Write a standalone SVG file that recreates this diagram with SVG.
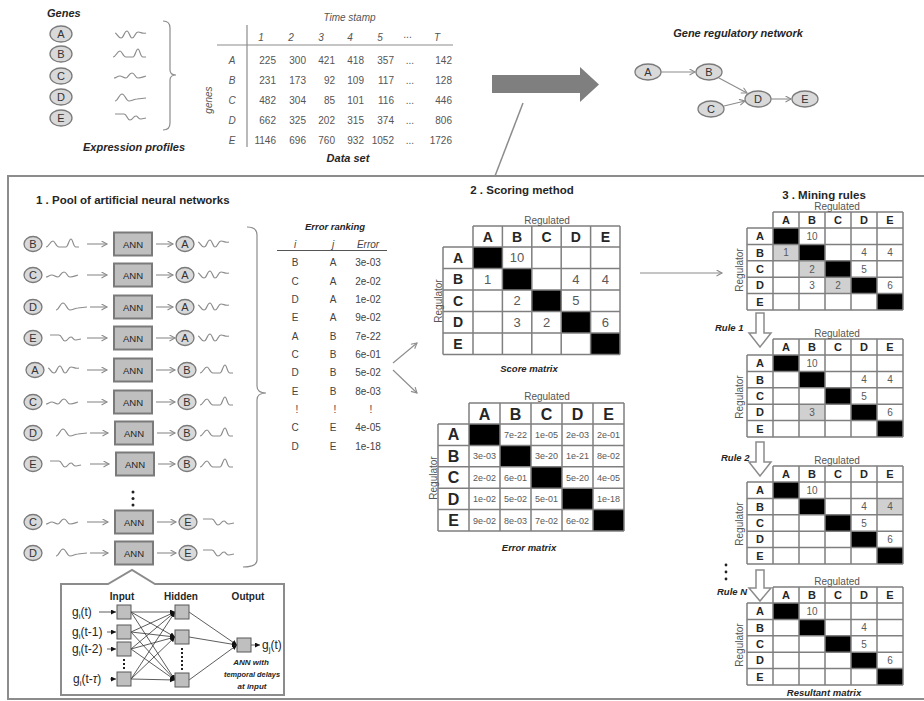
<svg xmlns="http://www.w3.org/2000/svg" width="924" height="701" viewBox="0 0 924 701">
<style>
text{font-family:"Liberation Sans",Arial,sans-serif;fill:#262626}
.ti{font-size:11.5px;font-weight:bold}
.bi{font-weight:bold;font-style:italic}
.sbi{font-weight:bold;font-style:italic;font-size:9.5px}
.it{font-style:italic}
.c{text-anchor:middle}
.g{fill:#d9d9d9;stroke:#7a7a7a;stroke-width:1.3}
.gl{font-size:11px;text-anchor:middle;fill:#333}
.wv{fill:none;stroke:#8c8c8c;stroke-width:1.2}
.ar{fill:none;stroke:#8c8c8c;stroke-width:1.1;marker-end:url(#oa)}
.grid{fill:none;stroke:#7f7f7f;stroke-width:1.5}
.v{fill:#595959;text-anchor:middle}
.dn{font-size:10px;fill:#555;text-anchor:end}
.er{font-size:10px;fill:#444;text-anchor:middle}
.blk{fill:#000}
.hl{fill:#d0d0d0}
.sq{fill:#bfbfbf;stroke:#595959;stroke-width:1}
.nl{fill:none;stroke:#333;stroke-width:0.8;marker-end:url(#fa)}
.rg{font-size:10px;fill:#555;text-anchor:middle}
.ha{fill:#fff;stroke:#8c8c8c;stroke-width:1.5}
</style>
<defs>
<marker id="oa" markerWidth="8" markerHeight="8" refX="6" refY="3.5" orient="auto" markerUnits="userSpaceOnUse"><path d="M0.5,0.5 L6,3.5 L0.5,6.5" fill="none" stroke="#8c8c8c" stroke-width="1.1"/></marker>
<marker id="fa" markerWidth="7" markerHeight="7" refX="5" refY="2.5" orient="auto" markerUnits="userSpaceOnUse"><path d="M0,0 L5,2.5 L0,5 Z" fill="#111"/></marker>
<path id="wA" class="wv" d="M0,-2 C2,-2 3,3 6,3 C9,3 9,-4 12,-4 C14,-4 15,3 17,3 C20,3 20,-3 23,-3 C26,-3 27,-1 31,-2"/>
<path id="wB" class="wv" d="M0,3 C3,3 4,-3 7,-3 C9,-3 10,3 13,3 L20,3 C22,3 23,-5 25,-5 C27,-5 27,3 30,3 L33,3"/>
<path id="wC" class="wv" d="M0,2 C2,2 3,0 6,0 C8,0 9,2 12,2 C14,2 15,-3 18,-3 C21,-3 21,2 24,2 C27,2 29,1 32,0"/>
<path id="wD" class="wv" d="M0,3 C3,3 4,-4 7,-4 C10,-4 11,3 14,3 C17,3 19,1 22,1 L31,0"/>
<path id="wE" class="wv" d="M0,-3 L9,-3 C12,-3 12,3 15,3 C18,3 18,-1 21,-1 C23,-1 23,2 26,2 L31,1"/>
<g id="ann"><rect x="0" y="-11.5" width="38" height="23" fill="#bfbfbf" stroke="#7a7a7a" stroke-width="2"/><text x="19" y="3.5" font-size="9.5" text-anchor="middle">ANN</text></g>
<g id="mgrid">
<rect class="blk" x="26" y="16" width="26" height="16.4"/><rect class="blk" x="52" y="32.4" width="26" height="16.4"/><rect class="blk" x="78" y="48.8" width="26" height="16.4"/><rect class="blk" x="104" y="65.2" width="26" height="16.4"/><rect class="blk" x="130" y="81.6" width="26" height="16.4"/>
<path class="grid" d="M26,0 H156 M0,16 H156 M0,32.4 H156 M0,48.8 H156 M0,65.2 H156 M0,81.6 H156 M0,98 H156 M0,16 V98 M26,0 V98 M52,0 V98 M78,0 V98 M104,0 V98 M130,0 V98 M156,0 V98"/>
<g font-size="11" font-weight="bold" text-anchor="middle"><text x="39" y="12">A</text><text x="65" y="12">B</text><text x="91" y="12">C</text><text x="117" y="12">D</text><text x="143" y="12">E</text>
<text x="13" y="28.2">A</text><text x="13" y="44.6">B</text><text x="13" y="61">C</text><text x="13" y="77.4">D</text><text x="13" y="93.8">E</text></g>
<text class="rg" x="90" y="-2.5" font-size="8.5">Regulated</text>
<text class="rg" transform="translate(-4,58) rotate(-90)" font-size="8.5">Regulator</text>
</g>
</defs>
<rect width="924" height="701" fill="#fff"/>

<!-- top: genes and expression profiles -->
<g id="genes">
<text class="bi" x="47" y="17" font-size="11">Genes</text>
<ellipse class="g" cx="61" cy="34" rx="11" ry="8"/><text class="gl" x="61" y="38">A</text>
<ellipse class="g" cx="61" cy="54" rx="11" ry="8"/><text class="gl" x="61" y="58">B</text>
<ellipse class="g" cx="61" cy="76" rx="11" ry="8"/><text class="gl" x="61" y="80">C</text>
<ellipse class="g" cx="61" cy="97" rx="11" ry="8"/><text class="gl" x="61" y="101">D</text>
<ellipse class="g" cx="61" cy="118" rx="11" ry="8"/><text class="gl" x="61" y="122">E</text>
<use href="#wA" x="115" y="35"/><use href="#wB" x="113" y="54"/><use href="#wC" x="114" y="76"/><use href="#wD" x="115" y="98"/><use href="#wE" x="115" y="117"/>
<path d="M163,21 Q170,21 170,28 L170,70 Q170,75 176,75 Q170,75 170,80 L170,123 Q170,130 163,130" fill="none" stroke="#8c8c8c" stroke-width="1.2"/>
<text class="bi c" x="134" y="151" font-size="11">Expression profiles</text>
</g>

<!-- data set -->
<g id="dataset">
<text class="it c" x="349.5" y="21" font-size="10" fill="#555" style="fill:#555">Time stamp</text>
<path d="M247,25 V147 M217,45 H453" stroke="#8c8c8c" stroke-width="1.2" fill="none"/>
<text class="it" font-size="10" text-anchor="middle" style="fill:#555"><tspan x="261" y="41">1</tspan><tspan x="291" y="41">2</tspan><tspan x="321" y="41">3</tspan><tspan x="350" y="41">4</tspan><tspan x="380" y="41">5</tspan><tspan x="408" y="38">...</tspan><tspan x="437" y="41">T</tspan></text>
<text class="it" font-size="10" text-anchor="middle" style="fill:#555"><tspan x="232" y="64">A</tspan><tspan x="232" y="84">B</tspan><tspan x="232" y="103.5">C</tspan><tspan x="232" y="123.5">D</tspan><tspan x="232" y="143.5">E</tspan></text>
<text class="it" font-size="10" text-anchor="middle" transform="translate(212,100) rotate(-90)" style="fill:#555">genes</text>
<text class="dn" y="64"><tspan x="276">225</tspan><tspan x="306">300</tspan><tspan x="335">421</tspan><tspan x="364">418</tspan><tspan x="394">357</tspan><tspan x="414">...</tspan><tspan x="452">142</tspan></text>
<text class="dn" y="84"><tspan x="276">231</tspan><tspan x="306">173</tspan><tspan x="335">92</tspan><tspan x="364">109</tspan><tspan x="394">117</tspan><tspan x="414">...</tspan><tspan x="452">128</tspan></text>
<text class="dn" y="103.5"><tspan x="276">482</tspan><tspan x="306">304</tspan><tspan x="335">85</tspan><tspan x="364">101</tspan><tspan x="394">116</tspan><tspan x="414">...</tspan><tspan x="452">446</tspan></text>
<text class="dn" y="123.5"><tspan x="276">662</tspan><tspan x="306">325</tspan><tspan x="335">202</tspan><tspan x="364">315</tspan><tspan x="394">374</tspan><tspan x="414">...</tspan><tspan x="452">806</tspan></text>
<text class="dn" y="143.5"><tspan x="276">1146</tspan><tspan x="306">696</tspan><tspan x="335">760</tspan><tspan x="364">932</tspan><tspan x="394">1052</tspan><tspan x="414">...</tspan><tspan x="452">1726</tspan></text>
<text class="bi c" x="348" y="162" font-size="11">Data set</text>
</g>

<!-- big arrow -->
<g id="bigarrow">
<path d="M492,75 L580,75 L580,67 L599,84.5 L580,102 L580,93 L492,93 Z" fill="#7f7f7f"/>
</g>

<!-- gene regulatory network -->
<g id="grn">
<text class="bi c" x="738" y="37" font-size="11">Gene regulatory network</text>
<g id="nA"><ellipse class="g" cx="648" cy="72" rx="13" ry="8"/><text class="gl" x="648" y="76">A</text></g>
<g id="nB"><ellipse class="g" cx="709" cy="72" rx="13" ry="8"/><text class="gl" x="709" y="76">B</text></g>
<g id="nC"><ellipse class="g" cx="711" cy="109" rx="13" ry="8"/><text class="gl" x="711" y="113">C</text></g>
<g id="nD"><ellipse class="g" cx="758" cy="99" rx="13" ry="8"/><text class="gl" x="758" y="103">D</text></g>
<g id="nE"><ellipse class="g" cx="805" cy="99" rx="13" ry="8"/><text class="gl" x="805" y="103">E</text></g>
</g>

<!-- main frame -->
<rect x="8" y="176" width="940" height="523" fill="none" stroke="#8c8c8c" stroke-width="2"/>

<!-- section 1 -->
<g id="pool">
<text class="ti" x="36" y="204">1 . Pool of artificial neural networks</text>
<g id="r1"><ellipse class="g" cx="33" cy="244" rx="9" ry="7.5"/><text class="gl" x="33" y="248">B</text><use href="#wB" x="46" y="244"/><use href="#ann" x="114" y="244"/><ellipse class="g" cx="185" cy="244" rx="9" ry="7.5"/><text class="gl" x="185" y="248">A</text><use href="#wA" x="198" y="244"/></g>
<g id="r2"><ellipse class="g" cx="33" cy="275" rx="9" ry="7.5"/><text class="gl" x="33" y="279">C</text><use href="#wC" x="46" y="275"/><use href="#ann" x="114" y="275"/><ellipse class="g" cx="185" cy="275" rx="9" ry="7.5"/><text class="gl" x="185" y="279">A</text><use href="#wA" x="198" y="275"/></g>
<g id="r3"><ellipse class="g" cx="33" cy="307" rx="9" ry="7.5"/><text class="gl" x="33" y="311">D</text><use href="#wD" x="56" y="307"/><use href="#ann" x="114" y="307"/><ellipse class="g" cx="185" cy="307" rx="9" ry="7.5"/><text class="gl" x="185" y="311">A</text><use href="#wA" x="198" y="307"/></g>
<g id="r4"><ellipse class="g" cx="33" cy="338" rx="9" ry="7.5"/><text class="gl" x="33" y="342">E</text><use href="#wE" x="50" y="338"/><use href="#ann" x="114" y="338"/><ellipse class="g" cx="185" cy="338" rx="9" ry="7.5"/><text class="gl" x="185" y="342">A</text><use href="#wA" x="198" y="338"/></g>
<g id="r5"><ellipse class="g" cx="35" cy="370" rx="9" ry="7.5"/><text class="gl" x="35" y="374">A</text><use href="#wA" x="48" y="370"/><use href="#ann" x="114" y="370"/><ellipse class="g" cx="187" cy="370" rx="9" ry="7.5"/><text class="gl" x="187" y="374">B</text><use href="#wB" x="200" y="370"/></g>
<g id="r6"><ellipse class="g" cx="33" cy="402" rx="9" ry="7.5"/><text class="gl" x="33" y="406">C</text><use href="#wC" x="46" y="402"/><use href="#ann" x="114" y="402"/><ellipse class="g" cx="187" cy="402" rx="9" ry="7.5"/><text class="gl" x="187" y="406">B</text><use href="#wB" x="200" y="402"/></g>
<g id="r7"><ellipse class="g" cx="33" cy="433" rx="9" ry="7.5"/><text class="gl" x="33" y="437">D</text><use href="#wD" x="56" y="433"/><use href="#ann" x="115" y="433"/><ellipse class="g" cx="187" cy="433" rx="9" ry="7.5"/><text class="gl" x="187" y="437">B</text><use href="#wB" x="200" y="433"/></g>
<g id="r8"><ellipse class="g" cx="33" cy="464" rx="9" ry="7.5"/><text class="gl" x="33" y="468">E</text><use href="#wE" x="50" y="464"/><use href="#ann" x="116" y="464"/><ellipse class="g" cx="187" cy="464" rx="9" ry="7.5"/><text class="gl" x="187" y="468">B</text><use href="#wB" x="200" y="464"/></g>
<g id="vdots1" fill="#222"><circle cx="133" cy="492" r="1.5"/><circle cx="133" cy="498.5" r="1.5"/><circle cx="133" cy="505" r="1.5"/></g>
<g id="r9"><ellipse class="g" cx="33" cy="522" rx="9" ry="7.5"/><text class="gl" x="33" y="526">C</text><use href="#wC" x="46" y="522"/><use href="#ann" x="115" y="522"/><ellipse class="g" cx="188" cy="522" rx="9" ry="7.5"/><text class="gl" x="188" y="526">E</text><use href="#wE" x="203" y="522"/></g>
<g id="r10"><ellipse class="g" cx="33" cy="553" rx="9" ry="7.5"/><text class="gl" x="33" y="557">D</text><use href="#wD" x="56" y="553"/><use href="#ann" x="115" y="553"/><ellipse class="g" cx="188" cy="553" rx="9" ry="7.5"/><text class="gl" x="188" y="557">E</text><use href="#wE" x="203" y="553"/></g>
<path d="M247,227 Q257,227 257,235 L257,386 Q257,393 266,393 Q257,393 257,400 L257,560 Q257,567 243,567" fill="none" stroke="#8c8c8c" stroke-width="1.2"/>
</g>

<!-- ANN inset -->
<g id="inset">
<path d="M61,584 H108 L132,570 L155,584 H284 V695 H61 Z" fill="#fff" stroke="#8c8c8c" stroke-width="2"/>
<text x="122" y="600" font-size="10" font-weight="bold" text-anchor="middle">Input</text>
<text x="181" y="600" font-size="10" font-weight="bold" text-anchor="middle">Hidden</text>
<text x="248" y="600" font-size="10" font-weight="bold" text-anchor="middle">Output</text>
<text x="72" y="616" font-size="12">g<tspan font-size="8" dy="3">i</tspan><tspan dy="-3">(t)</tspan></text>
<text x="72" y="636" font-size="12">g<tspan font-size="8" dy="3">i</tspan><tspan dy="-3">(t-1)</tspan></text>
<text x="72" y="653" font-size="12">g<tspan font-size="8" dy="3">i</tspan><tspan dy="-3">(t-2)</tspan></text>
<text x="73" y="683" font-size="12">g<tspan font-size="8" dy="3">i</tspan><tspan dy="-3">(t-</tspan><tspan font-style="italic">τ</tspan>)</text>
<text x="262" y="649" font-size="12">g<tspan font-size="8" dy="3">j</tspan><tspan dy="-3">(t)</tspan></text>
<g fill="none" stroke="#333" stroke-width="0.8">
<path class="nl" d="M131,612 L175,612"/><path class="nl" d="M131,612 L175,637"/><path class="nl" d="M131,612 L175,680"/>
<path class="nl" d="M131,632 L175,612"/><path class="nl" d="M131,632 L175,637"/><path class="nl" d="M131,632 L175,680"/>
<path class="nl" d="M131,649 L175,612"/><path class="nl" d="M131,649 L175,637"/><path class="nl" d="M131,649 L175,680"/>
<path class="nl" d="M131,679 L175,612"/><path class="nl" d="M131,679 L175,637"/><path class="nl" d="M131,679 L175,680"/>
<path class="nl" d="M189,612 L237,645"/><path class="nl" d="M189,637 L237,645"/><path class="nl" d="M189,680 L237,645"/>
<path class="nl" d="M251,645 L260,645"/>
<path class="nl" d="M99,612 L116,612"/><path class="nl" d="M107,632 L116,632"/><path class="nl" d="M107,649 L116,649"/><path class="nl" d="M110,679 L116,679"/>
</g>
<rect class="sq" x="117" y="605" width="14" height="14"/><rect class="sq" x="117" y="625" width="14" height="14"/><rect class="sq" x="117" y="642" width="14" height="14"/><rect class="sq" x="117" y="672" width="14" height="14"/>
<rect class="sq" x="175" y="605" width="14" height="14"/><rect class="sq" x="175" y="630" width="14" height="14"/><rect class="sq" x="175" y="673" width="14" height="14"/>
<rect class="sq" x="237" y="638" width="14" height="14"/>
<path d="M124,659 V671 M182,648 V671" stroke="#222" stroke-width="2" stroke-dasharray="2,2" fill="none"/>
<text class="bi c" x="251" y="665" font-size="8">ANN with</text>
<text class="bi c" x="252" y="677" font-size="8" textLength="56" lengthAdjust="spacingAndGlyphs">temporal delays</text>
<text class="bi c" x="252" y="689" font-size="8">at input</text>
</g>

<!-- error ranking -->
<g id="ranking">
<text class="bi c" x="335" y="230" font-size="9.5">Error ranking</text>
<text class="it er" x="295" y="248">i</text><text class="it er" x="333" y="248">j</text><text class="it er" x="368" y="248">Error</text>
<path d="M277,250.5 H387" stroke="#555" stroke-width="1"/>
<text class="er"><tspan x="295" y="266">B</tspan><tspan x="333" y="266">A</tspan><tspan x="368" y="266">3e-03</tspan></text>
<text class="er"><tspan x="295" y="284.5">C</tspan><tspan x="333" y="284.5">A</tspan><tspan x="368" y="284.5">2e-02</tspan></text>
<text class="er"><tspan x="295" y="303">D</tspan><tspan x="333" y="303">A</tspan><tspan x="368" y="303">1e-02</tspan></text>
<text class="er"><tspan x="295" y="321">E</tspan><tspan x="333" y="321">A</tspan><tspan x="368" y="321">9e-02</tspan></text>
<text class="er"><tspan x="295" y="339.5">A</tspan><tspan x="333" y="339.5">B</tspan><tspan x="368" y="339.5">7e-22</tspan></text>
<text class="er"><tspan x="295" y="358">C</tspan><tspan x="333" y="358">B</tspan><tspan x="368" y="358">6e-01</tspan></text>
<text class="er"><tspan x="295" y="376">D</tspan><tspan x="333" y="376">B</tspan><tspan x="368" y="376">5e-02</tspan></text>
<text class="er"><tspan x="295" y="394.5">E</tspan><tspan x="333" y="394.5">B</tspan><tspan x="368" y="394.5">8e-03</tspan></text>
<text class="er"><tspan x="297" y="412.5">!</tspan><tspan x="335" y="412.5">!</tspan><tspan x="371" y="412.5">!</tspan></text>
<text class="er"><tspan x="295" y="431">C</tspan><tspan x="333" y="431">E</tspan><tspan x="368" y="431">4e-05</tspan></text>
<text class="er"><tspan x="295" y="449.5">D</tspan><tspan x="333" y="449.5">E</tspan><tspan x="368" y="449.5">1e-18</tspan></text>
</g>

<!-- section 2 -->
<text class="ti c" x="522" y="194">2 . Scoring method</text>
<g id="score">
<rect class="blk" x="473" y="247" width="29.4" height="21.5"/><rect class="blk" x="502.4" y="268.5" width="29.4" height="21.5"/><rect class="blk" x="531.8" y="290" width="29.4" height="21.5"/><rect class="blk" x="561.2" y="311.5" width="29.4" height="21.5"/><rect class="blk" x="590.6" y="333" width="29.4" height="21.5"/>
<path class="grid" d="M473,226 H620 M443,247 H620 M443,268.5 H620 M443,290 H620 M443,311.5 H620 M443,333 H620 M443,354.5 H620 M443,247 V354.5 M473,226 V354.5 M502.4,226 V354.5 M531.8,226 V354.5 M561.2,226 V354.5 M590.6,226 V354.5 M620,226 V354.5"/>
<text class="rg" x="547" y="223.5">Regulated</text>
<text class="rg" transform="translate(442,301) rotate(-90)">Regulator</text>
<g font-size="14" font-weight="bold" text-anchor="middle"><text x="487.7" y="241.5">A</text><text x="517.1" y="241.5">B</text><text x="546.5" y="241.5">C</text><text x="575.9" y="241.5">D</text><text x="605.3" y="241.5">E</text>
<text x="458" y="262.8">A</text><text x="458" y="284.3">B</text><text x="458" y="305.8">C</text><text x="458" y="327.3">D</text><text x="458" y="348.8">E</text></g>
<g font-size="13"><text class="v" x="517.1" y="262.4">10</text><text class="v" x="487.7" y="283.9">1</text><text class="v" x="575.9" y="283.9">4</text><text class="v" x="605.3" y="283.9">4</text><text class="v" x="517.1" y="305.4">2</text><text class="v" x="575.9" y="305.4">5</text><text class="v" x="517.1" y="326.9">3</text><text class="v" x="546.5" y="326.9">2</text><text class="v" x="605.3" y="326.9">6</text></g>
<text class="bi c" x="529" y="372" font-size="9.5">Score matrix</text>
</g>

<g id="errmat">
<rect class="blk" x="469" y="424" width="31" height="21.4"/><rect class="blk" x="500" y="445.4" width="31" height="21.4"/><rect class="blk" x="531" y="466.8" width="31" height="21.4"/><rect class="blk" x="562" y="488.2" width="31" height="21.4"/><rect class="blk" x="593" y="509.6" width="31" height="21.4"/>
<path class="grid" d="M469,403 H624 M438,424 H624 M438,445.4 H624 M438,466.8 H624 M438,488.2 H624 M438,509.6 H624 M438,531 H624 M438,424 V531 M469,403 V531 M500,403 V531 M531,403 V531 M562,403 V531 M593,403 V531 M624,403 V531"/>
<text class="rg" x="547" y="400">Regulated</text>
<text class="rg" transform="translate(437,478) rotate(-90)">Regulator</text>
<g font-size="16" font-weight="bold" text-anchor="middle"><text x="484.5" y="419.5">A</text><text x="515.5" y="419.5">B</text><text x="546.5" y="419.5">C</text><text x="577.5" y="419.5">D</text><text x="608.5" y="419.5">E</text>
<text x="453.5" y="440.4">A</text><text x="453.5" y="461.8">B</text><text x="453.5" y="483.2">C</text><text x="453.5" y="504.6">D</text><text x="453.5" y="526">E</text></g>
<g font-size="9">
<text class="v" x="515.5" y="437.9">7e-22</text><text class="v" x="546.5" y="437.9">1e-05</text><text class="v" x="577.5" y="437.9">2e-03</text><text class="v" x="608.5" y="437.9">2e-01</text>
<text class="v" x="484.5" y="459.3">3e-03</text><text class="v" x="546.5" y="459.3">3e-20</text><text class="v" x="577.5" y="459.3">1e-21</text><text class="v" x="608.5" y="459.3">8e-02</text>
<text class="v" x="484.5" y="480.7">2e-02</text><text class="v" x="515.5" y="480.7">6e-01</text><text class="v" x="577.5" y="480.7">5e-20</text><text class="v" x="608.5" y="480.7">4e-05</text>
<text class="v" x="484.5" y="502.1">1e-02</text><text class="v" x="515.5" y="502.1">5e-02</text><text class="v" x="546.5" y="502.1">5e-01</text><text class="v" x="608.5" y="502.1">1e-18</text>
<text class="v" x="484.5" y="523.5">9e-02</text><text class="v" x="515.5" y="523.5">8e-03</text><text class="v" x="546.5" y="523.5">7e-02</text><text class="v" x="577.5" y="523.5">6e-02</text>
</g>
<text class="bi c" x="529" y="551" font-size="9.5">Error matrix</text>
</g>

<!-- section 3 -->
<text class="ti c" x="824" y="199">3 . Mining rules</text>
<g id="m1" transform="translate(747,212)">
<rect class="hl" x="26" y="32.4" width="26" height="16.4"/><rect class="hl" x="52" y="48.8" width="26" height="16.4"/><rect class="hl" x="78" y="65.2" width="26" height="16.4"/>
<use href="#mgrid"/>
<g font-size="10"><text class="v" x="65" y="27.7">10</text><text class="v" x="39" y="44.1">1</text><text class="v" x="117" y="44.1">4</text><text class="v" x="143" y="44.1">4</text><text class="v" x="65" y="60.5">2</text><text class="v" x="117" y="60.5">5</text><text class="v" x="65" y="76.9">3</text><text class="v" x="91" y="76.9">2</text><text class="v" x="143" y="76.9">6</text></g>
</g>
<g id="m2" transform="translate(747,339)">
<rect class="hl" x="52" y="65.2" width="26" height="16.4"/>
<use href="#mgrid"/>
<g font-size="10"><text class="v" x="65" y="27.7">10</text><text class="v" x="117" y="44.1">4</text><text class="v" x="143" y="44.1">4</text><text class="v" x="117" y="60.5">5</text><text class="v" x="65" y="76.9">3</text><text class="v" x="143" y="76.9">6</text></g>
</g>
<g id="m3" transform="translate(747,466)">
<rect class="hl" x="130" y="32.4" width="26" height="16.4"/>
<use href="#mgrid"/>
<g font-size="10"><text class="v" x="65" y="27.7">10</text><text class="v" x="117" y="44.1">4</text><text class="v" x="143" y="44.1">4</text><text class="v" x="117" y="60.5">5</text><text class="v" x="143" y="76.9">6</text></g>
</g>
<g id="m4" transform="translate(747,587)">
<use href="#mgrid"/>
<g font-size="10"><text class="v" x="65" y="27.7">10</text><text class="v" x="117" y="44.1">4</text><text class="v" x="117" y="60.5">5</text><text class="v" x="143" y="76.9">6</text></g>
</g>
<g id="rules">
<polygon class="ha" points="756,313 764,313 764,333 771,333 760,347 749,333 756,333"/>
<polygon class="ha" points="756,442 764,442 764,462 771,462 760,476 749,462 756,462"/>
<polygon class="ha" points="756,570 764,570 764,588 771,588 760,601 749,588 756,588"/>
<text class="sbi" x="715" y="331">Rule 1</text>
<text class="sbi" x="721" y="461">Rule 2</text>
<text class="sbi" x="717" y="595">Rule N</text>
<g fill="#222"><circle cx="726" cy="565" r="1.4"/><circle cx="726" cy="572" r="1.4"/><circle cx="726" cy="579" r="1.4"/></g>
<text class="bi c" x="824" y="696" font-size="9.5">Resultant matrix</text>
</g>

<!-- connectors -->
<g id="connectors">
<path d="M523,103 L495,176" stroke="#8c8c8c" stroke-width="1.5" fill="none"/>
<path class="ar" d="M661,72 L695,72"/>
<path class="ar" d="M719,78 L747,93"/>
<path class="ar" d="M724,106 L745,101"/>
<path class="ar" d="M771,99 L791,99"/>
<path class="ar" d="M87,244 H107"/><path class="ar" d="M156,244 H173"/>
<path class="ar" d="M87,275 H107"/><path class="ar" d="M156,275 H173"/>
<path class="ar" d="M90,307 H107"/><path class="ar" d="M156,307 H173"/>
<path class="ar" d="M87,338 H107"/><path class="ar" d="M156,338 H175"/>
<path class="ar" d="M87,370 H107"/><path class="ar" d="M156,370 H175"/>
<path class="ar" d="M87,402 H107"/><path class="ar" d="M156,402 H175"/>
<path class="ar" d="M90,433 H108"/><path class="ar" d="M157,433 H175"/>
<path class="ar" d="M90,464 H109"/><path class="ar" d="M158,464 H175"/>
<path class="ar" d="M87,522 H108"/><path class="ar" d="M157,522 H176"/>
<path class="ar" d="M90,553 H108"/><path class="ar" d="M157,553 H176"/>
<path class="ar" d="M393,363 L417,343"/>
<path class="ar" d="M393,370 L417,393"/>
<path class="ar" d="M640,273 H722"/>
</g>
</svg>
